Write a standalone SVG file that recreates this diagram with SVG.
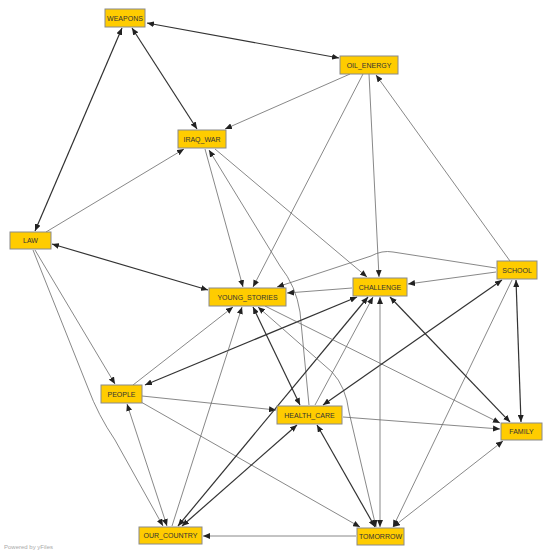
<svg xmlns="http://www.w3.org/2000/svg" width="550" height="553" viewBox="0 0 550 553">
<defs>
<marker id="a" viewBox="0 0 7 6" refX="7" refY="3" markerWidth="7" markerHeight="6" markerUnits="userSpaceOnUse" orient="auto-start-reverse">
<path d="M0,0 L7,3 L0,6 z" fill="#222"/>
</marker>
<style>
.e{fill:none;stroke:#6a6a6a;stroke-width:0.8;marker-end:url(#a)}
.d{fill:none;stroke:#333;stroke-width:1.2;marker-end:url(#a)}
.b{marker-start:url(#a)}
.n rect{fill:#FFCC00;stroke:#8a8a8a;stroke-width:1}
.n text{font-family:"Liberation Sans",Arial,sans-serif;font-size:7px;fill:#333;text-anchor:middle;dominant-baseline:central}
.w{font-family:"Liberation Sans",Arial,sans-serif;font-size:6px;fill:#aaa}
</style>
</defs>
<rect width="550" height="553" fill="#fff"/>
<g id="edges">
<line class="d b" x1="147" y1="23" x2="339" y2="58"/>
<line class="d b" x1="132" y1="28" x2="197" y2="129"/>
<line class="d b" x1="35" y1="231" x2="122" y2="28"/>
<line class="e" x1="46" y1="232" x2="184" y2="149"/>
<line class="e" x1="350" y1="74" x2="225" y2="129"/>
<line class="e" x1="363" y1="74" x2="253" y2="287"/>
<line class="e" x1="369" y1="74" x2="379" y2="277"/>
<line class="e" x1="510" y1="261" x2="376" y2="75"/>
<line class="e" x1="205" y1="149" x2="243" y2="287"/>
<line class="e" x1="215" y1="149" x2="367" y2="277"/>
<path class="e" d="M309,405 L300,312 Q296,286 280,266 L209,150"/>
<line class="d b" x1="52" y1="244" x2="208" y2="290"/>
<line class="e" x1="35" y1="250" x2="115" y2="384"/>
<path class="e" d="M33,250 L88,388 Q98,415 115,440 L163,526"/>
<line class="e" x1="133" y1="385" x2="233" y2="307"/>
<line class="d b" x1="145" y1="385" x2="357" y2="297"/>
<line class="e" x1="142" y1="396" x2="276" y2="410"/>
<line class="e" x1="141" y1="402" x2="360" y2="527"/>
<line class="e b" x1="167" y1="526" x2="127" y2="404"/>
<line class="e" x1="172" y1="526" x2="242" y2="307"/>
<line class="d b" x1="178" y1="526" x2="368" y2="297"/>
<line class="d b" x1="182" y1="526" x2="297" y2="425"/>
<line class="e" x1="356" y1="536" x2="203" y2="536"/>
<line class="d b" x1="253" y1="307" x2="300" y2="405"/>
<path class="e b" d="M258,307 L332,372 Q346,387 349,412 L376,527"/>
<line class="e" x1="265" y1="306" x2="500" y2="423"/>
<line class="e" x1="352" y1="288" x2="287" y2="293"/>
<path class="e" d="M496,268 L393,252 Q382,250 371,256 L277,287"/>
<line class="e" x1="496" y1="272" x2="408" y2="284"/>
<line class="d b" x1="516" y1="280" x2="521" y2="422"/>
<line class="e" x1="512" y1="280" x2="393" y2="527"/>
<line class="d b" x1="502" y1="280" x2="323" y2="405"/>
<line class="e" x1="315" y1="405" x2="373" y2="297"/>
<line class="e b" x1="380" y1="297" x2="380" y2="527"/>
<line class="d b" x1="390" y1="297" x2="510" y2="422"/>
<line class="e" x1="343" y1="417" x2="500" y2="429"/>
<line class="d b" x1="317" y1="425" x2="375" y2="527"/>
<line class="e b" x1="503" y1="441" x2="393" y2="527"/>
</g>
<g id="WEAPONS" class="n"><rect x="105" y="9" width="40" height="18"/><text x="125" y="18">WEAPONS</text></g>
<g id="OIL_ENERGY" class="n"><rect x="340" y="56" width="58" height="18"/><text x="369" y="65">OIL_ENERGY</text></g>
<g id="IRAQ_WAR" class="n"><rect x="178" y="130" width="48" height="18"/><text x="202" y="139">IRAQ_WAR</text></g>
<g id="LAW" class="n"><rect x="10" y="232" width="41" height="17"/><text x="30.5" y="240.5">LAW</text></g>
<g id="YOUNG_STORIES" class="n"><rect x="209" y="288" width="77" height="18"/><text x="247.5" y="297">YOUNG_STORIES</text></g>
<g id="CHALLENGE" class="n"><rect x="353" y="278" width="54" height="18"/><text x="380" y="287">CHALLENGE</text></g>
<g id="SCHOOL" class="n"><rect x="497" y="261" width="40" height="18"/><text x="517" y="270">SCHOOL</text></g>
<g id="PEOPLE" class="n"><rect x="101" y="385" width="41" height="18"/><text x="121.5" y="394">PEOPLE</text></g>
<g id="HEALTH_CARE" class="n"><rect x="277" y="406" width="65" height="18"/><text x="309.5" y="415">HEALTH_CARE</text></g>
<g id="FAMILY" class="n"><rect x="501" y="423" width="41" height="17"/><text x="521.5" y="431.5">FAMILY</text></g>
<g id="OUR_COUNTRY" class="n"><rect x="139" y="527" width="63" height="17"/><text x="170.5" y="535.5">OUR_COUNTRY</text></g>
<g id="TOMORROW" class="n"><rect x="357" y="528" width="47" height="17"/><text x="380.5" y="536.5">TOMORROW</text></g>
<text class="w" x="4" y="549">Powered by yFiles</text>
</svg>
